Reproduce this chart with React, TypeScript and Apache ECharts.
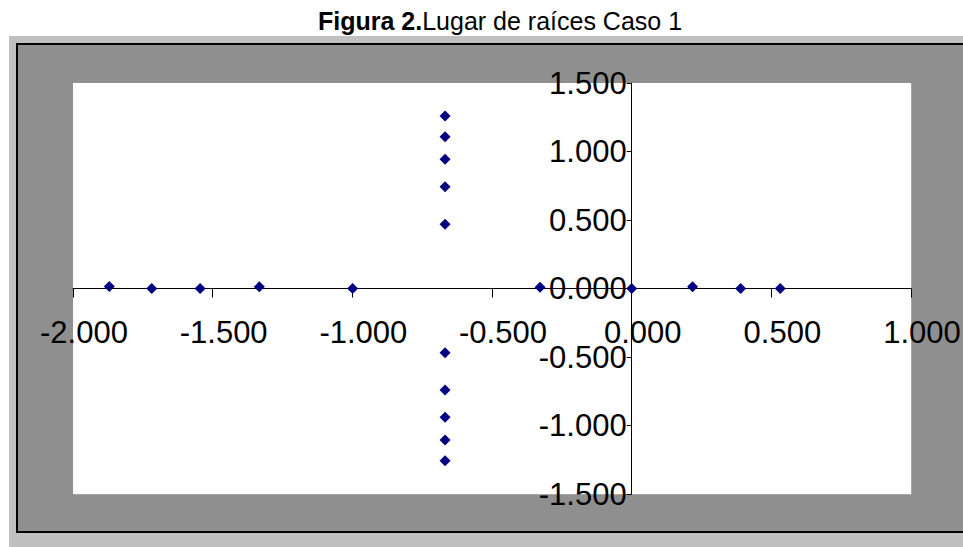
import React, { useEffect, useRef } from "react";
import * as echarts from "echarts";

const titleBold = "Figura 2.";
const titleRest = "Lugar de raíces Caso 1";

// Real part / imaginary part of each plotted root
const rootRe = [-1.870, -1.718, -1.545, -1.333, -0.999, -0.328, 0.0, 0.218, 0.390, 0.532,
  -0.668, -0.668, -0.668, -0.668, -0.668, -0.668, -0.668, -0.668, -0.668, -0.668];
const rootIm = [0.015, 0.0, 0.0, 0.012, 0.0, 0.01, 0.0, 0.012, 0.0, 0.0,
  1.259, 1.108, 0.943, 0.743, 0.469, -0.469, -0.741, -0.940, -1.106, -1.257];

const xMin = -2, xMax = 1, xStep = 0.5;
const yMin = -1.5, yMax = 1.5, yStep = 0.5;

const FONT = 'Arial, "Liberation Sans", sans-serif';

const GRID_L = 73, GRID_T = 83, GRID_W = 838, GRID_H = 411;

export default function App() {
  const ref = useRef<HTMLDivElement>(null);
  useEffect(() => {
    if (!ref.current) return;
    const chart = echarts.init(ref.current, undefined, { renderer: "svg" });
    const data = rootRe.map((x, i) => [x, rootIm[i]]);
    // move axes so that they cross at the origin (like onZero, labels included)
    const xAxisOffset = -((0 - yMin) / (yMax - yMin)) * GRID_H;
    const yAxisOffset = -((0 - xMin) / (xMax - xMin)) * GRID_W;
    chart.setOption({
      animation: false,
      backgroundColor: "#ffffff",
      title: {
        text: `{b|${titleBold}}{n|${titleRest}}`,
        left: 313,
        top: 3,
        textStyle: {
          fontWeight: "normal",
          rich: {
            b: { fontFamily: FONT, fontSize: 25, fontWeight: "bold", color: "#000" },
            n: { fontFamily: FONT, fontSize: 25, fontWeight: "normal", color: "#000" },
          },
        },
      },
      graphic: {
        elements: [
          { type: "rect", z: -100, silent: true, shape: { x: 9, y: 36, width: 1000, height: 520 }, style: { fill: "#c0c0c0" } },
          { type: "rect", z: -99, silent: true, shape: { x: 17, y: 44, width: 1000, height: 488 }, style: { fill: "#8f8f8f", stroke: "#000", lineWidth: 2 } },
          { type: "rect", z: -98, silent: true, shape: { x: GRID_L + 1, y: GRID_T + 1, width: GRID_W, height: GRID_H }, style: { fill: "#a6a6a6" } },
          { type: "rect", z: -97, silent: true, shape: { x: GRID_L, y: GRID_T, width: GRID_W, height: GRID_H }, style: { fill: "#ffffff" } },
        ],
      },
      grid: {
        left: GRID_L,
        top: GRID_T,
        width: GRID_W,
        height: GRID_H,
        containLabel: false,
        outerBoundsMode: "none",
      },
      xAxis: {
        type: "value",
        min: xMin,
        max: xMax,
        interval: xStep,
        position: "bottom",
        offset: xAxisOffset,
        axisLine: { show: true, onZero: false, lineStyle: { color: "#000", width: 1 } },
        axisTick: { show: true, inside: false, length: 9, lineStyle: { color: "#000" } },
        axisLabel: {
          fontFamily: FONT,
          fontSize: 31,
          color: "#000",
          margin: 28,
          padding: [0, 0, 0, 22],
          hideOverlap: false,
          formatter: (v: number) => v.toFixed(3),
        },
        splitLine: { show: false },
      },
      yAxis: {
        type: "value",
        min: yMin,
        max: yMax,
        interval: yStep,
        position: "left",
        offset: yAxisOffset,
        axisLine: { show: true, onZero: false, lineStyle: { color: "#000", width: 1 } },
        axisTick: { show: true, inside: false, length: 5, lineStyle: { color: "#000" } },
        axisLabel: {
          fontFamily: FONT,
          fontSize: 31,
          color: "#000",
          margin: 5,
          padding: [12, 0, 0, 0],
          hideOverlap: false,
          formatter: (v: number) => v.toFixed(3),
        },
        splitLine: { show: false },
      },
      series: [
        {
          type: "scatter",
          data,
          symbol: "diamond",
          symbolSize: [11, 11],
          itemStyle: { color: "#000080", opacity: 1 },
        },
      ],
    });
    return () => chart.dispose();
  }, []);
  return (
    <div
      ref={ref}
      style={{ position: "fixed", left: 0, top: 0, width: 963, height: 547 }}
    />
  );
}
